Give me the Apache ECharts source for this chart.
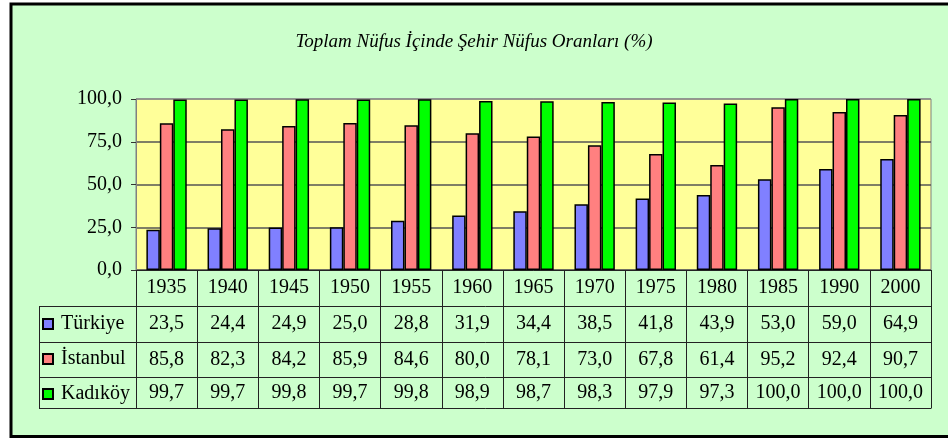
<!DOCTYPE html>
<html>
<head>
<meta charset="utf-8">
<script src="https://cdn.jsdelivr.net/npm/echarts@6/dist/echarts.min.js"></script>
<style>
html,body{margin:0;padding:0;background:#ffffff;}
#chart{width:948px;height:438px;}
</style>
</head>
<body>
<div id="chart"></div>
<script>
const titleText = 'Toplam Nüfus İçinde Şehir Nüfus Oranları (%)';
const years = ['1935','1940','1945','1950','1955','1960','1965','1970','1975','1980','1985','1990','2000'];
const seriesNames = ['Türkiye','İstanbul','Kadıköy'];
const turkiye  = [23.5,24.4,24.9,25.0,28.8,31.9,34.4,38.5,41.8,43.9,53.0,59.0,64.9];
const istanbul = [85.8,82.3,84.2,85.9,84.6,80.0,78.1,73.0,67.8,61.4,95.2,92.4,90.7];
const kadikoy  = [99.7,99.7,99.8,99.7,99.8,98.9,98.7,98.3,97.9,97.3,100.0,100.0,100.0];
const yTicks = [0,25,50,75,100];

const colors = ['#8080ff','#ff8080','#00ff00'];
const seriesData = [turkiye, istanbul, kadikoy];
const fmt = v => v.toFixed(1).replace('.', ',');

// layout constants
const G = {left:136, top:99, right:931, bottom:270};
const rowLines = [306, 342, 377, 408];
const tableLeft = 39;
const FONT = '"Liberation Serif","Times New Roman",serif';
const FS = 20;

const chart = echarts.init(document.getElementById('chart'));

const xAxes = [{
  type:'category', data: years, position:'bottom', gridIndex:0,
  axisLine:{show:true, lineStyle:{color:'#222', width:1}},
  axisTick:{show:true, length: rowLines[3]-G.bottom, lineStyle:{color:'#222', width:1}},
  axisLabel:{color:'#000', fontFamily:FONT, fontSize:FS, lineHeight:FS, margin: 288-G.bottom-FS/2},
  splitLine:{show:false}
}];
const rowCenters = [324, 359.5, 393];
seriesData.forEach((arr, i) => {
  xAxes.push({
    type:'category', data: arr.map(fmt), position:'bottom', gridIndex:0, offset:0,
    axisLine:{show:false}, axisTick:{show:false},
    axisLabel:{color:'#000', fontFamily:FONT, fontSize:FS, lineHeight:FS, margin: rowCenters[i]-G.bottom-FS/2},
    splitLine:{show:false}
  });
});

const graphicEls = [
  {type:'rect', z:-10, silent:true, shape:{x:11, y:4, width:960, height:432.5}, style:{fill:'#ccffcc', stroke:'#000', lineWidth:3}}
];
rowLines.forEach(y => {
  graphicEls.push({type:'line', silent:true, shape:{x1:tableLeft, y1:y+0.5, x2:G.right+0.5, y2:y+0.5}, style:{stroke:'#222', lineWidth:1}});
});
graphicEls.push({type:'line', silent:true, shape:{x1:tableLeft+0.5, y1:rowLines[0], x2:tableLeft+0.5, y2:rowLines[3]+1}, style:{stroke:'#222', lineWidth:1}});

chart.setOption({
  animation:false,
  backgroundColor:'transparent',
  title:{
    text:titleText, left:'center', top:32, padding:0,
    textStyle:{fontFamily:FONT, fontSize:19, fontStyle:'italic', fontWeight:'normal', color:'#000'}
  },
  legend:{
    orient:'vertical', left:42, top:324-FS/2, itemWidth:10, itemHeight:10, itemGap:35-FS,
    icon:'rect', padding:0,
    textStyle:{fontFamily:FONT, fontSize:FS, color:'#000', padding:[0,0,0,3]},
    data: seriesNames
  },
  grid:{left:G.left, top:G.top, width:G.right-G.left, height:G.bottom-G.top, show:true,
        backgroundColor:'#ffff99', borderColor:'#808080', borderWidth:1, containLabel:false},
  xAxis: xAxes,
  yAxis:{
    type:'value', min:0, max:100, interval:25,
    axisLine:{show:true, lineStyle:{color:'#808080'}},
    axisTick:{show:true, length:5, lineStyle:{color:'#333'}},
    axisLabel:{color:'#000', fontFamily:FONT, fontSize:FS, margin:14, formatter: v => fmt(v)},
    splitLine:{show:true, lineStyle:{color:['#555','#555','#555','#555','#888'], width:1.5}}
  },
  graphic: graphicEls,
  series: seriesNames.map((name, i) => ({
    name, type:'bar', xAxisIndex:0, data: seriesData[i],
    barGap:'0%', barCategoryGap:'34%',
    itemStyle:{color:colors[i], borderColor:'#000', borderWidth:1.5}
  }))
});
</script>
</body>
</html>
